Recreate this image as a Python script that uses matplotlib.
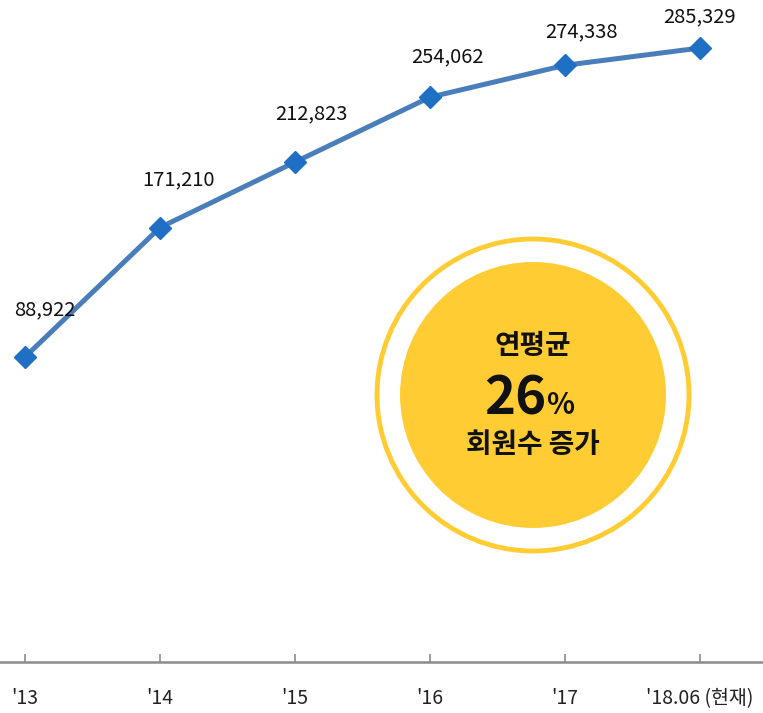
import matplotlib.pyplot as plt
from matplotlib.patches import Circle

plt.rcParams['font.family'] = ['Noto Sans CJK KR', 'DejaVu Sans']

# data
periods = ["'13", "'14", "'15", "'16", "'17", "'18.06 (현재)"]
members = [88922, 171210, 212823, 254062, 274338, 285329]
growth_text = ["연평균", "26", "회원수 증가"]

line_color = '#4a7ebb'
marker_color = '#1f6fc5'
gold = '#ffcd33'

fig = plt.figure(figsize=(7.63, 7.13), dpi=100)
ax = fig.add_axes([0, 51 / 713, 1, 662 / 713])

x = list(range(len(members)))
ax.plot(x, members, color=line_color, lw=3.6, marker='D', ms=11,
        mfc=marker_color, mec=marker_color, zorder=3)

# value labels (offsets in pixels)
offsets = [(20, 47), (18, 48), (16, 48), (17, 40), (16, 33), (0, 31)]
for xi, v, off in zip(x, members, offsets):
    ax.annotate(f"{v:,}", (xi, v), xytext=off, textcoords='offset pixels',
                ha='center', va='center', fontsize=14.5, color='#111111')

ax.set_xlim(-25 / 135, 738 / 135)
ax.set_ylim(-104938, 315838)
ax.set_xticks(x)
ax.set_xticklabels(periods, fontsize=14, color='#222222')
ax.tick_params(axis='x', direction='in', length=6, width=1.2, color='#8c8c8c', pad=19)
ax.set_yticks([])
for s in ['top', 'right', 'left']:
    ax.spines[s].set_visible(False)
ax.spines['bottom'].set_color('#8c8c8c')
ax.spines['bottom'].set_linewidth(1.8)

# badge
cx, cy, size = 533, 395, 330
bx = fig.add_axes([(cx - size / 2) / 763, (713 - cy - size / 2) / 713, size / 763, size / 713])
bx.set_xlim(-1, 1)
bx.set_ylim(-1, 1)
bx.set_aspect('equal')
bx.axis('off')
bx.add_patch(Circle((0, 0), 156 / 165, fill=False, ec=gold, lw=3.5))
bx.add_patch(Circle((0, 0), 133 / 165, fc=gold, ec='none'))
bx.text(0, 49 / 165, growth_text[0], ha='center', va='center', fontsize=20,
        fontweight='bold', color='#111111')
bx.text(0.08, -4 / 165, growth_text[1], ha='right', va='center', fontsize=38,
        fontweight='semibold', color='#111111')
bx.text(0.08, -10 / 165, '%', ha='left', va='center', fontsize=21,
        fontweight='bold', color='#111111')
bx.text(0, -50 / 165, growth_text[2], ha='center', va='center', fontsize=20,
        fontweight='bold', color='#111111')

fig.savefig('out.png', dpi=100)
